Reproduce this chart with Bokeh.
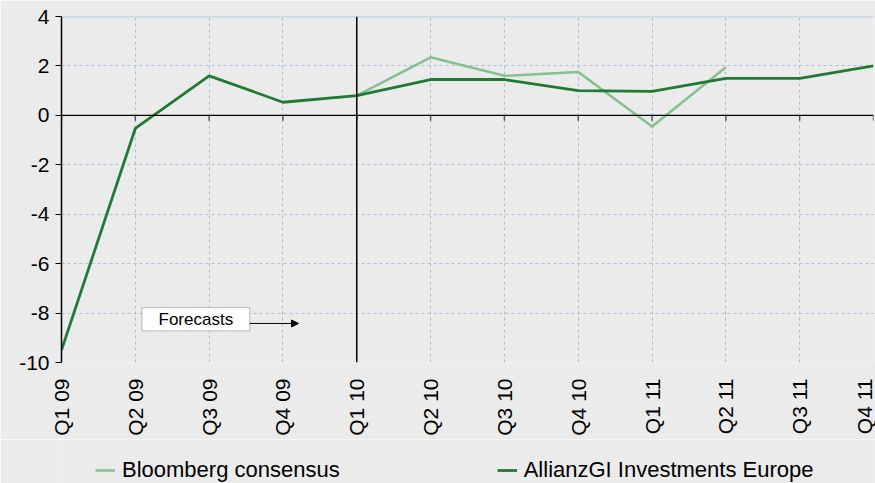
import numpy as np
from bokeh.plotting import figure
from bokeh.layouts import column
from bokeh.models import (Range1d, FixedTicker, Span, Legend, LegendItem, Arrow,
                          NormalHead, Label, BoxAnnotation, ColumnDataSource)
from bokeh.embed import file_html
from bokeh.resources import INLINE

quarters = ["Q1 09", "Q2 09", "Q3 09", "Q4 09", "Q1 10", "Q2 10",
            "Q3 10", "Q4 10", "Q1 11", "Q2 11", "Q3 11", "Q4 11"]
allianz = [-9.5, -0.53, 1.6, 0.53, 0.8, 1.45, 1.45, 1.0, 0.97, 1.5, 1.5, 2.0]
bloomberg = [np.nan, np.nan, np.nan, np.nan, 0.8, 2.35, 1.6, 1.75, -0.45, 1.95, np.nan, np.nan]
y_ticks = [4, 2, 0, -2, -4, -6, -8, -10]
forecast_start = "Q1 10"
series_names = ["Bloomberg consensus", "AllianzGI Investments Europe"]

xs = list(range(len(quarters)))
BG = "#EBEBEB"
GRID = "#A9BCD8"
DARK = "#217A33"
LIGHT = "#85C08F"
FONT = "Liberation Sans"

p = figure(width=875, height=439, output_backend="svg", toolbar_location=None,
           x_range=Range1d(0, len(quarters) - 1), y_range=Range1d(min(y_ticks), max(y_ticks)),
           background_fill_color=BG, border_fill_color=BG,
           min_border_left=61, min_border_right=2, min_border_top=16, min_border_bottom=77)
p.outline_line_color = None

# grid
p.xgrid.ticker = FixedTicker(ticks=xs)
p.ygrid.ticker = FixedTicker(ticks=y_ticks)
for g in (p.xgrid, p.ygrid):
    g.grid_line_color = GRID
    g.grid_line_dash = "3 3"
    g.grid_line_width = 1
p.add_layout(Span(location=max(y_ticks), dimension="width", line_color=GRID, line_width=1.5))

# x axis
p.xaxis.ticker = FixedTicker(ticks=xs)
p.xaxis.major_label_overrides = {i: q for i, q in enumerate(quarters)}
p.xaxis.major_label_orientation = np.pi / 2
p.xaxis.axis_line_color = None
p.xaxis.major_tick_line_color = None
p.xaxis.minor_tick_line_color = None
p.xaxis.major_label_standoff = 10
p.xaxis.major_label_text_font = FONT
p.xaxis.major_label_text_font_size = "21px"
p.xaxis.major_label_text_color = "#000000"

# y axis
p.yaxis.ticker = FixedTicker(ticks=y_ticks)
p.yaxis.major_label_overrides = {t: str(t) for t in y_ticks}
p.yaxis.axis_line_color = "#000000"
p.yaxis.axis_line_width = 1.5
p.yaxis.major_tick_line_color = "#000000"
p.yaxis.major_tick_in = 0
p.yaxis.major_tick_out = 6
p.yaxis.minor_tick_line_color = None
p.yaxis.major_label_text_font = FONT
p.yaxis.major_label_text_font_size = "21px"
p.yaxis.major_label_text_color = "#000000"
p.yaxis.major_label_standoff = 6

# zero line with ticks
p.add_layout(Span(location=0, dimension="width", line_color="#000000", line_width=1.2))
p.segment(x0=xs, y0=[0] * len(xs), x1=xs, y1=[-0.22] * len(xs), line_color="#555555", line_width=1.5)

# forecast divider
fx = quarters.index(forecast_start)
p.add_layout(Span(location=fx, dimension="height", line_color="#000000", line_width=1.5))

# lines
src = ColumnDataSource(dict(x=xs, a=allianz, b=bloomberg))
p.line("x", "b", source=src, line_color=LIGHT, line_width=2.5)
p.line("x", "a", source=src, line_color=DARK, line_width=2.8)

# forecasts label box
p.add_layout(BoxAnnotation(left=1.09, right=2.55, top=-7.78, bottom=-8.72,
                           fill_color="#FFFFFF", fill_alpha=1.0, line_color="#333333", line_width=1))
p.add_layout(Label(x=1.82, y=-8.25, text="Forecasts", text_align="center", text_baseline="middle",
                   text_font=FONT, text_font_size="17px", text_color="#000000"))
p.add_layout(Arrow(x_start=2.55, y_start=-8.42, x_end=3.21, y_end=-8.42, line_color="#000000",
                   line_width=1,
                   end=NormalHead(size=7, fill_color="#000000", line_color="#000000")))

# legend strip underneath (its frame is aligned with the chart frame by the column layout)
lg = figure(width=875, height=44, output_backend="svg", toolbar_location=None,
            x_range=Range1d(0, 1), y_range=Range1d(0, 1),
            background_fill_color=BG, border_fill_color=BG,
            x_axis_type=None, y_axis_type=None,
            min_border=0, min_border_left=0, min_border_right=0, min_border_top=0, min_border_bottom=0)
lg.outline_line_color = None
lg.xgrid.visible = False
lg.ygrid.visible = False
lb = lg.line(x=[0, 1], y=[np.nan, np.nan], line_color=LIGHT, line_width=2.5)
la = lg.line(x=[0, 1], y=[np.nan, np.nan], line_color=DARK, line_width=2.8)
legend = Legend(items=[LegendItem(label=series_names[0], renderers=[lb]),
                       LegendItem(label=series_names[1], renderers=[la])],
                orientation="horizontal", location=(34, 0), spacing=157,
                background_fill_alpha=0, border_line_color=None,
                label_text_font=FONT, label_text_font_size="22px", label_text_color="#000000",
                glyph_width=20, label_standoff=7, margin=0, padding=0)
lg.add_layout(legend)

layout = column(p, lg, spacing=0)
open("out.html", "w").write(file_html(layout, INLINE))
